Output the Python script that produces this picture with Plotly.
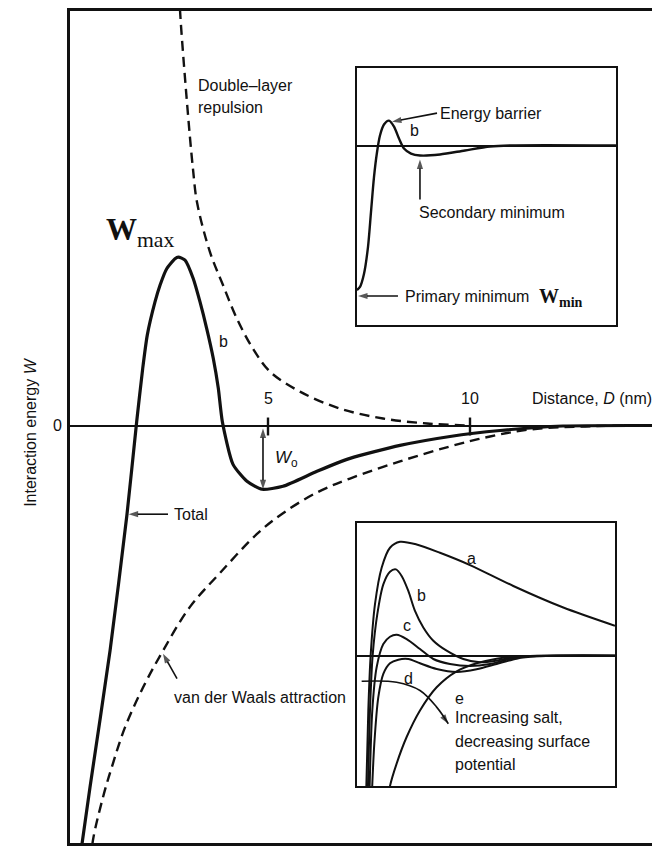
import plotly.graph_objects as go

# ---------------- main panel: D (nm) vs interaction energy W (arb. units) ----------------
total_D = [0.34, 0.594, 1.09, 1.51, 1.75, 1.899, 2.012, 2.203, 2.327, 2.493, 2.698, 2.78, 2.946,
           3.151, 3.317, 3.483, 3.646, 3.77, 3.869, 4.134, 4.48, 4.851, 5.371, 6.213, 7.03, 8.267,
           9.505, 10.743, 12.3, 14.7]
total_W = [-10.9, -9.075, -5.65, -2.225, 0.1, 1.433, 2.268, 3.1, 3.518, 3.933, 4.183, 4.225, 4.15,
           3.683, 3.1, 2.433, 1.683, 0.933, 0.1, -0.975, -1.4, -1.6, -1.525, -1.15, -0.825, -0.5,
           -0.275, -0.125, -0.0125, 0.0]

vdw_D = [0.619, 0.668, 0.916, 1.163, 1.46, 1.906, 2.401, 3.069, 3.812, 4.728, 5.371, 6.213,
         7.03, 8.267, 9.505, 10.495, 11.485, 12.723, 14.7]
vdw_W = [-10.9, -10.4, -9.325, -8.475, -7.575, -6.575, -5.65, -4.55, -3.7, -2.72, -2.2, -1.68,
         -1.33, -0.9, -0.525, -0.275, -0.1, -0.025, 0.0]

dl_D = [2.809, 2.822, 2.995, 3.144, 3.243, 3.564, 3.886, 4.233, 4.629, 5.05, 5.792, 6.782,
        7.847, 8.936, 9.926]
dl_W = [10.85, 10.425, 8.1, 6.425, 5.6, 4.35, 3.525, 2.675, 1.925, 1.35, 0.85, 0.425,
        0.175, 0.05, 0.0]

tick_vals = [5, 10]
tick_text = ["5", "10"]

# ---------------- inset 1 (curve b) ----------------
in1_X = [0, 0.116, 0.27, 0.425, 0.54, 0.656, 0.772, 0.888, 1.042, 1.236, 1.429, 1.622, 1.815,
         2.085, 2.432, 3.205, 4.17, 5.135, 5.9, 10]
in1_W = [-5.58, -5.46, -4.96, -3.92, -2.58, -1.23, -0.27, 0.385, 0.81, 0.96, 0.73, 0.27, -0.115,
         -0.31, -0.385, -0.346, -0.19, -0.04, 0, 0]

# ---------------- inset 2 (curves a-e) ----------------
a_X = [0.349, 0.439, 0.53, 0.698, 0.956, 1.279, 1.667, 2.313, 3.217, 4.38, 6.059, 7.997, 10.0]
a_W = [-5.58, -2.115, 0.0, 1.987, 3.397, 4.167, 4.397, 4.295, 3.974, 3.5, 2.692, 1.859, 1.154]

b_X = [0.413, 0.504, 0.607, 0.788, 1.021, 1.279, 1.512, 1.731, 1.99, 2.248, 2.571, 2.959, 3.475,
       4.121, 4.767, 5.413, 6.059, 6.705, 7.997, 10.0]
b_W = [-5.577, -2.115, 0.0, 1.603, 2.756, 3.244, 3.333, 3.077, 2.5, 1.731, 1.09, 0.577, 0.192,
       -0.128, -0.256, -0.192, -0.064, -0.013, 0.0, 0.0]

c_X = [0.478, 0.594, 0.762, 1.021, 1.279, 1.537, 1.925, 2.442, 2.959, 3.605, 4.38, 5.155, 5.93,
       6.705, 7.997, 10.0]
c_W = [-5.577, -2.115, -0.449, 0.449, 0.731, 0.808, 0.641, 0.256, -0.128, -0.321, -0.397, -0.321,
       -0.128, -0.026, 0.0, 0.0]

d_X = [0.568, 0.672, 0.827, 1.021, 1.279, 1.602, 1.99, 2.442, 3.088, 3.863, 4.638, 5.413, 6.189,
       6.964, 7.997, 10.0]
d_W = [-5.577, -3.397, -1.603, -0.705, -0.295, -0.154, -0.128, -0.295, -0.513, -0.628, -0.526,
       -0.321, -0.115, -0.026, 0.0, 0.0]

e_X = [1.214, 1.279, 1.537, 1.925, 2.442, 3.088, 3.863, 4.638, 5.413, 6.189, 6.964, 10.0]
e_W = [-5.577, -5.038, -4.167, -3.141, -2.115, -1.218, -0.603, -0.295, -0.115, -0.026, 0.0, 0.0]

curve_labels = ["a", "b", "c", "d", "e"]
label_X = [4.457, 2.519, 1.938, 2.016, 3.992]
label_W = [3.77, 2.31, 1.154, -0.885, -1.654]

INK = "#111111"
SANS = "Liberation Sans, Arial, sans-serif"
SERIF = "Liberation Serif, Times New Roman, serif"
FS = 16


def ital(t, size):
    return '<span style="font-style:italic;font-size:%dpx">%s</span>' % (size, t)


def bold(t, size):
    return '<span style="font-weight:bold;font-size:%dpx">%s</span>' % (size, t)


fig = go.Figure()

# main curves
fig.add_trace(go.Scatter(x=total_D, y=total_W, mode="lines", xaxis="x", yaxis="y",
                         line=dict(color=INK, width=3.2, shape="spline", smoothing=0.6)))
fig.add_trace(go.Scatter(x=vdw_D, y=vdw_W, mode="lines", xaxis="x", yaxis="y",
                         line=dict(color=INK, width=2.4, dash="10px,6px", shape="spline", smoothing=1.0)))
fig.add_trace(go.Scatter(x=dl_D, y=dl_W, mode="lines", xaxis="x", yaxis="y",
                         line=dict(color=INK, width=2.4, dash="10px,6px", shape="spline", smoothing=1.0)))
# tick marks crossing the zero line
for tv in tick_vals:
    fig.add_trace(go.Scatter(x=[tv, tv], y=[0.2, -0.25], mode="lines", xaxis="x", yaxis="y",
                             line=dict(color=INK, width=2.4)))

# inset 1
fig.add_trace(go.Scatter(x=in1_X, y=in1_W, mode="lines", xaxis="x2", yaxis="y2",
                         line=dict(color=INK, width=2.4, shape="spline", smoothing=0.8)))
# inset 2
for xs, ws in [(a_X, a_W), (b_X, b_W), (c_X, c_W), (d_X, d_W), (e_X, e_W)]:
    fig.add_trace(go.Scatter(x=xs, y=ws, mode="lines", xaxis="x3", yaxis="y3",
                             line=dict(color=INK, width=2.0, shape="spline", smoothing=0.8)))


def arrow(xs, ys, ref="", width=1.6, shape="linear", head=10):
    """Arrow drawn as a line whose last point carries an arrow-head marker."""
    sizes = [0] * (len(xs) - 1) + [head]
    fig.add_trace(go.Scatter(x=xs, y=ys, mode="lines+markers", xaxis="x" + ref, yaxis="y" + ref,
                             line=dict(color=INK, width=width, shape=shape, smoothing=1.0),
                             marker=dict(symbol="arrow", angleref="previous", size=sizes, color=INK,
                                         line=dict(width=0))))


# main arrows
arrow([2.525, 1.55], [-2.225, -2.225])                 # Total
arrow([4.876, 4.876], [-0.84, -0.075])                 # W0 up
arrow([4.876, 4.876], [-0.84, -1.6])                   # W0 down
arrow([2.748, 2.401], [-6.35, -5.725])                 # van der Waals
# inset 1 arrows
arrow([3.09, 1.351], [1.25, 0.92], ref="2")            # energy barrier
arrow([2.432, 2.432], [-2.08, -0.54], ref="2")         # secondary minimum
arrow([1.583, 0.04], [-5.81, -5.81], ref="2")          # primary minimum
# inset 2 curved arrow
arrow([0.181, 1.537, 2.442, 3.088, 3.54], [-0.987, -1.026, -1.346, -1.987, -2.628], ref="3",
      shape="spline")

ann = []


def text(x, y, t, ref="", size=FS, xanchor="left", family=SANS, **kw):
    ann.append(dict(x=x, y=y, xref="x" + ref, yref="y" + ref, text=t, showarrow=False,
                    xanchor=xanchor, yanchor="middle", font=dict(size=size, family=family, color=INK), **kw))


# main texts
text(3.218, 8.525, "Double–layer")
text(3.218, 7.975, "repulsion")
text(0.95, 4.85, bold("W", 31) + '<sub>max</sub>', size=31, family=SERIF)
text(3.738, 2.1, "b")
for tv, tt in zip(tick_vals, tick_text):
    text(tv, 0.675, tt, xanchor="center")
text(11.485, 0.675, "Distance, " + ital("D", FS) + " (nm)")
ann.append(dict(x=0, y=0, xref="paper", yref="y", text="0", showarrow=False, xanchor="right",
                xshift=-6, font=dict(size=FS, family=SANS, color=INK)))
ann.append(dict(x=-0.085, y=-0.15, xref="paper", yref="y", text="Interaction energy " + ital("W", FS),
                showarrow=False, textangle=-90, font=dict(size=FS, family=SANS, color=INK)))
text(2.62, -2.225, "Total")
text(5.124, -0.85, ital("W", 17) + "<sub>o</sub>", size=17)
text(2.624, -6.825, "van der Waals attraction")

# inset 1 texts
text(3.127, 1.25, "Energy barrier", ref="2")
text(1.97, 0.58, "b", ref="2")
text(2.317, -2.58, "Secondary minimum", ref="2")
text(1.776, -5.81, "Primary minimum", ref="2")
text(6.95, -5.85, bold("W", 20) + "<sub>" + bold("min", 14) + "</sub>", ref="2", size=20, family=SERIF)
text(-0.25, 0, "0", ref="2", size=15, xanchor="right")
text(-0.25, -4.04, ital("W", 15), ref="2", size=15, xanchor="right")

# inset 2 texts
for lx, lw, lt in zip(label_X, label_W, curve_labels):
    text(lx, lw, lt, ref="3", xanchor="center")
text(-0.3, 0, "0", ref="3", size=15, xanchor="right")
text(-0.3, 4.0, ital("W", 15), ref="3", size=15, xanchor="right")
text(3.71, -2.4, "Increasing salt,", ref="3")
text(3.71, -3.33, "decreasing surface", ref="3")
text(3.71, -4.2, "potential", ref="3")

bare = dict(showgrid=False, showticklabels=False, ticks="", zeroline=False)

# the page body adds an 8px offset, so the figure is 8px smaller and margins are reduced
fig.update_layout(
    width=652, height=838,
    margin=dict(l=62, r=0, t=0, b=3),
    paper_bgcolor="white", plot_bgcolor="rgba(0,0,0,0)",
    showlegend=False,
    xaxis=dict(**bare, range=[0.099, 14.703], showline=True, linecolor=INK, linewidth=2.5,
               mirror=True, domain=[0, 1], anchor="y"),
    yaxis=dict(showgrid=False, showticklabels=False, ticks="", range=[-10.475, 10.4],
               zeroline=True, zerolinecolor=INK, zerolinewidth=2.2,
               showline=True, linecolor=INK, linewidth=2.5, domain=[0, 1], anchor="x"),
    xaxis2=dict(**bare, range=[0, 10], domain=[0.4864, 0.9254], anchor="y2",
                showline=True, mirror=True, linecolor=INK, linewidth=2),
    yaxis2=dict(showgrid=False, showticklabels=False, ticks="", range=[-6.923, 3.0],
                domain=[0.6228, 0.9317], anchor="x2", zeroline=True, zerolinecolor=INK,
                zerolinewidth=2, showline=True, mirror=True, linecolor=INK, linewidth=2),
    xaxis3=dict(**bare, range=[0, 10], domain=[0.4864, 0.9237], anchor="y3",
                showline=True, mirror=True, linecolor=INK, linewidth=2),
    yaxis3=dict(showgrid=False, showticklabels=False, ticks="", range=[-5.04, 5.13],
                domain=[0.0683, 0.3848], anchor="x3", zeroline=True, zerolinecolor=INK,
                zerolinewidth=2, showline=True, mirror=True, linecolor=INK, linewidth=2),
    annotations=ann,
)

fig.write_html("out.html")
